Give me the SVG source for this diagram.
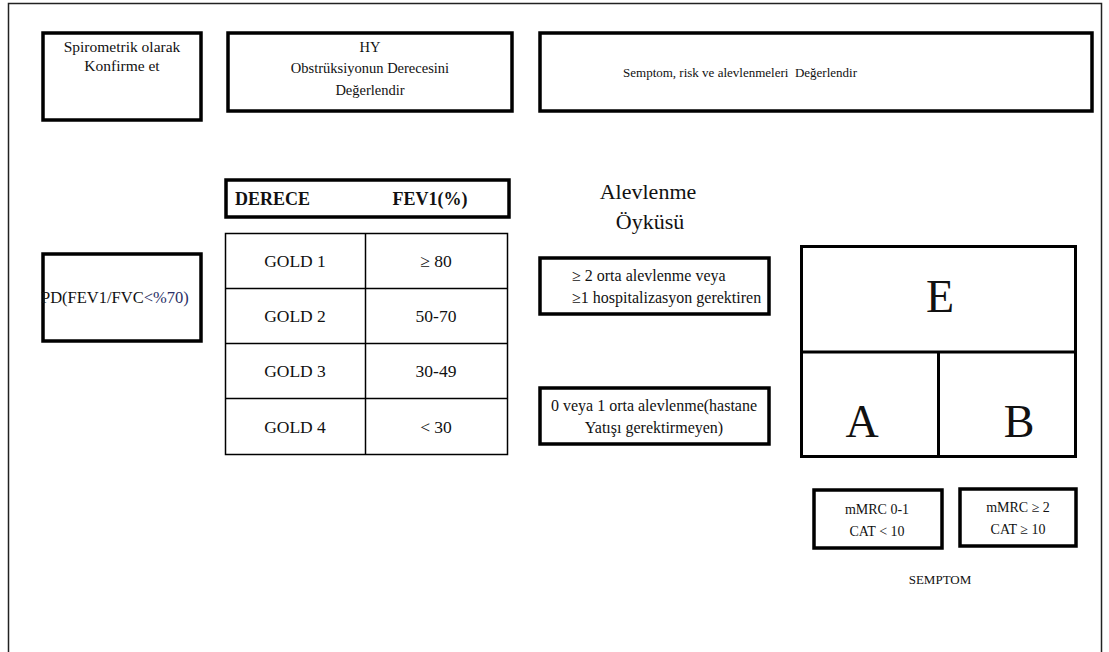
<svg xmlns="http://www.w3.org/2000/svg" width="1109" height="652" viewBox="0 0 1109 652" font-family="'Liberation Serif', 'Times New Roman', serif">
<style>
text{font-family:"Liberation Serif","Times New Roman",serif;fill:#111;}
.box{fill:#fff;stroke:#000;stroke-width:3.5;}
.thin{fill:none;stroke:#000;stroke-width:1.5;}
.grid{fill:none;stroke:#000;stroke-width:3;}
.s14{font-size:14px;text-anchor:middle;}
.s145{font-size:14.5px;text-anchor:middle;}
.s155{font-size:15.5px;text-anchor:middle;}
.s16{font-size:16px;text-anchor:middle;}
.s17{font-size:17.5px;text-anchor:middle;}
.big{font-size:46px;text-anchor:middle;}
</style>
<rect width="1109" height="652" fill="#fff"/>
<rect x="8.5" y="3.5" width="1093" height="670" fill="none" stroke="#222" stroke-width="1.5"/>
<g id="spirometrik">
<rect class="box" x="43" y="33" width="158" height="87"/>
<text class="s155" x="122" y="52">Spirometrik olarak</text>
<text class="s155" x="122" y="71">Konfirme et</text>
</g>
<g id="hy">
<rect class="box" x="228" y="33" width="284" height="78"/>
<text class="s145" x="370" y="52">HY</text>
<text class="s145" x="370" y="73">Obstrüksiyonun Derecesini</text>
<text class="s145" x="370" y="95">Değerlendir</text>
</g>
<g id="semptom-risk">
<rect class="box" x="540" y="33" width="552" height="78"/>
<text x="740" y="77" style="font-size:13px;text-anchor:middle;white-space:pre">Semptom, risk ve alevlenmeleri  Değerlendir</text>
</g>
<g id="pd">
<rect class="box" x="43" y="254" width="158" height="87"/>
<text x="41" y="303" style="font-size:16.5px">PD(FEV1/FVC<tspan fill="#2a2f66">&lt;%70)</tspan></text>
</g>
<g id="derece-header">
<rect class="box" x="226" y="180" width="283" height="37"/>
<text x="235" y="205" style="font-size:18px;font-weight:bold">DERECE</text>
<text x="430" y="205" style="font-size:18px;font-weight:bold;text-anchor:middle">FEV1(%)</text>
</g>
<g id="gold-table">
<rect class="thin" x="225.5" y="233.5" width="282" height="221"/>
<line class="thin" x1="365.5" y1="233.5" x2="365.5" y2="454.5"/>
<line class="thin" x1="225.5" y1="288.5" x2="507.5" y2="288.5"/>
<line class="thin" x1="225.5" y1="343.5" x2="507.5" y2="343.5"/>
<line class="thin" x1="225.5" y1="398.5" x2="507.5" y2="398.5"/>
<text class="s17" x="295" y="267">GOLD 1</text>
<text class="s17" x="436" y="267">≥ 80</text>
<text class="s17" x="295" y="322">GOLD 2</text>
<text class="s17" x="436" y="322">50-70</text>
<text class="s17" x="295" y="377">GOLD 3</text>
<text class="s17" x="436" y="377">30-49</text>
<text class="s17" x="295" y="433">GOLD 4</text>
<text class="s17" x="436" y="433">&lt; 30</text>
</g>
<g id="alevlenme-oykusu">
<text x="648" y="199" style="font-size:22px;text-anchor:middle">Alevlenme</text>
<text x="650" y="229" style="font-size:22px;text-anchor:middle">Öyküsü</text>
</g>
<g id="high-risk">
<rect class="box" x="540" y="258" width="229" height="56"/>
<text x="572" y="281" style="font-size:16px">≥ 2 orta alevlenme veya</text>
<text x="572" y="303" style="font-size:16px">≥1 hospitalizasyon gerektiren</text>
</g>
<g id="low-risk">
<rect class="box" x="540" y="388" width="229" height="56"/>
<text class="s16" x="654" y="411">0 veya 1 orta alevlenme(hastane</text>
<text class="s16" x="654" y="433">Yatışı gerektirmeyen)</text>
</g>
<g id="abe-grid">
<rect class="grid" x="801.5" y="246.5" width="274" height="210"/>
<line class="grid" x1="801.5" y1="352" x2="1075.5" y2="352"/>
<line class="grid" x1="938.5" y1="352" x2="938.5" y2="456.5"/>
<text class="big" x="940" y="312">E</text>
<text class="big" x="862" y="437">A</text>
<text class="big" x="1019" y="437">B</text>
</g>
<g id="mmrc-low">
<rect class="box" x="814" y="490" width="128" height="58"/>
<text class="s14" x="877" y="514">mMRC 0-1</text>
<text class="s14" x="877" y="536">CAT &lt; 10</text>
</g>
<g id="mmrc-high">
<rect class="box" x="960" y="489" width="116" height="57"/>
<text class="s14" x="1018" y="512">mMRC ≥ 2</text>
<text class="s14" x="1018" y="534">CAT ≥ 10</text>
</g>
<g id="semptom-label">
<text x="940" y="584" style="font-size:13px;text-anchor:middle">SEMPTOM</text>
</g>
<g id="connectors"></g>
</svg>
